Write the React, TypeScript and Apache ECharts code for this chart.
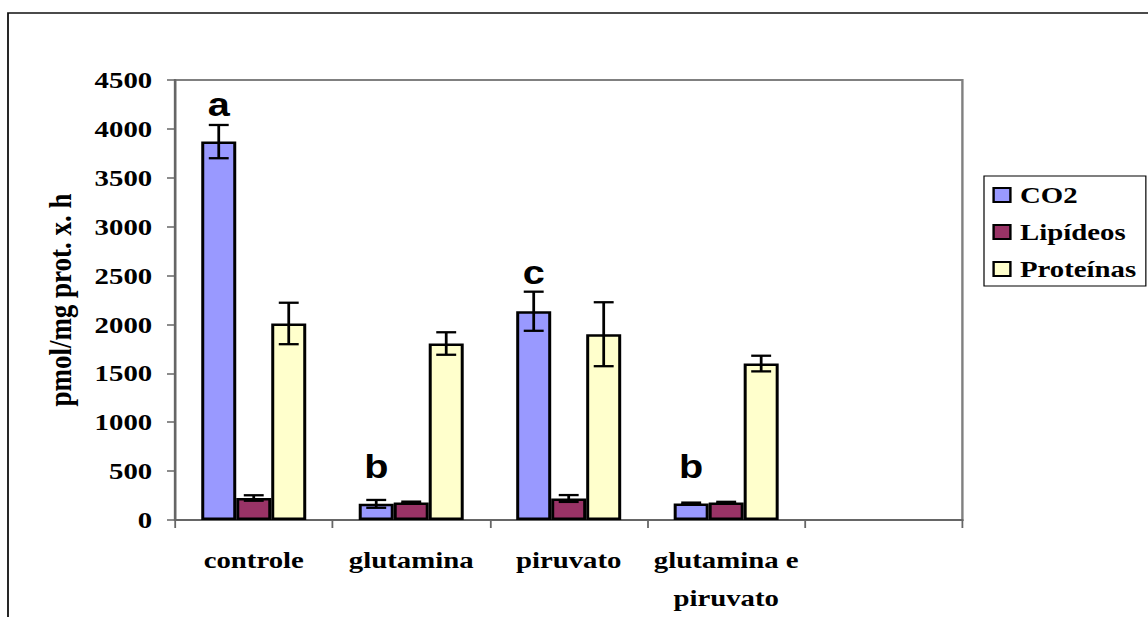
import React, { useEffect, useRef } from "react";
import * as echarts from "echarts";

const categories = ["controle", "glutamina", "piruvato", "glutamina e\npiruvato", ""];
const seriesNames = ["CO2", "Lipídeos", "Proteínas"];
const co2 = [3870, 165, 2135, 170];
const co2Err = [170, 40, 200, 8];
const lipideos = [225, 180, 220, 178];
const lipideosErr = [28, 8, 35, 8];
const proteinas = [2010, 1805, 1900, 1600];
const proteinasErr = [212, 115, 327, 80];
const letters = ["a", "b", "c", "b"];
const letterY = [4250, 547, 2530, 547];
const yTicks = { min: 0, max: 4500, interval: 500 };

const colors = ["#9999FF", "#993366", "#FFFFCC"];
const SERIF = "Liberation Serif";
const CAT_GAP = 1 / 3;
// the original picture is stretched horizontally
const STRETCH = 1.2;
const W = 1148 / STRETCH;
const H = 617;

export default function App() {
  const ref = useRef<HTMLDivElement>(null);

  useEffect(() => {
    if (!ref.current) return;
    const chart = echarts.init(ref.current, undefined, { renderer: "svg" });

    const values = [co2, lipideos, proteinas];
    const errs = [co2Err, lipideosErr, proteinasErr];

    const barSeries = seriesNames.map((name, i) => ({
      name,
      type: "bar",
      data: values[i],
      barGap: "0%",
      barCategoryGap: "33.33%",
      itemStyle: { color: colors[i], borderColor: "#000", borderWidth: 2.5 },
      z: 2,
    }));

    const errSeries = seriesNames.map((name, i) => ({
      type: "custom",
      name: name + "_err",
      z: 5,
      silent: true,
      data: values[i].map((v, k) => [k, v, errs[i][k]]),
      renderItem: (params: any, api: any) => {
        const idx = api.value(0);
        const v = api.value(1);
        const e = api.value(2);
        const catW = api.size([1, 0])[0];
        const bw = (catW * (1 - CAT_GAP)) / 3;
        const c = api.coord([idx, v]);
        const x = c[0] + (i - 1) * bw;
        const top = api.coord([idx, v + e])[1];
        const bot = api.coord([idx, v - e])[1];
        const cap = 8.3;
        const st = { stroke: "#000", lineWidth: 2.3 };
        return {
          type: "group",
          children: [
            { type: "line", shape: { x1: x, y1: top, x2: x, y2: bot }, style: st },
            { type: "line", shape: { x1: x - cap, y1: top, x2: x + cap, y2: top }, style: st },
            { type: "line", shape: { x1: x - cap, y1: bot, x2: x + cap, y2: bot }, style: st },
          ],
        };
      },
    }));

    const letterSeries = {
      type: "custom",
      name: "letters",
      z: 6,
      silent: true,
      data: letters.map((l, k) => [k, letterY[k], l]),
      renderItem: (params: any, api: any) => {
        const idx = api.value(0);
        const y = api.value(1);
        const catW = api.size([1, 0])[0];
        const bw = (catW * (1 - CAT_GAP)) / 3;
        const c = api.coord([idx, y]);
        return {
          type: "text",
          x: c[0] - bw,
          y: c[1],
          style: {
            text: letters[params.dataIndex],
            fontFamily: "Liberation Sans",
            fontWeight: "bold",
            fontSize: 33,
            fill: "#000",
            align: "center",
            verticalAlign: "middle",
          },
        };
      },
    };

    chart.setOption({
      animation: false,
      backgroundColor: "#fff",
      grid: {
        left: 175 / STRETCH,
        right: W - 962 / STRETCH,
        top: 80,
        bottom: 97,
        show: true,
        borderColor: "#808080",
        borderWidth: 2,
        backgroundColor: "transparent",
      },
      graphic: [
        {
          type: "rect",
          shape: { x: 8 / STRETCH, y: 13, width: 1300, height: 800 },
          style: { fill: "none", stroke: "#111", lineWidth: 1.5 },
          silent: true,
          z: 0,
        },
      ],
      legend: {
        data: seriesNames.map((n) => ({ name: n, icon: "rect" })),
        orient: "vertical",
        left: 984 / STRETCH,
        top: 176,
        itemWidth: 14,
        itemHeight: 14,
        itemGap: 13,
        padding: [7, 8, 5, 7],
        borderColor: "#000",
        borderWidth: 1,
        textStyle: {
          fontFamily: SERIF,
          fontWeight: "bold",
          fontSize: 24,
          lineHeight: 24,
          color: "#000",
          padding: [0, 0, 0, 3],
        },
      },
      xAxis: {
        type: "category",
        data: categories,
        axisLine: { lineStyle: { color: "#666", width: 2 } },
        axisTick: { show: true, length: 8, lineStyle: { color: "#666", width: 1.5 } },
        axisLabel: {
          interval: 0,
          margin: 21,
          fontFamily: SERIF,
          fontWeight: "bold",
          fontSize: 24,
          lineHeight: 38,
          color: "#000",
        },
      },
      yAxis: {
        type: "value",
        min: yTicks.min,
        max: yTicks.max,
        interval: yTicks.interval,
        name: "pmol/mg prot. x. h",
        nameLocation: "middle",
        nameRotate: 90,
        nameGap: 83,
        nameTextStyle: {
          fontFamily: SERIF,
          fontWeight: "bold",
          fontSize: 27,
          color: "#000",
        },
        axisLine: { show: true, lineStyle: { color: "#666", width: 2 } },
        axisTick: { show: true, length: 6.7, lineStyle: { color: "#666", width: 1.5 } },
        splitLine: { show: false },
        axisLabel: {
          margin: 19,
          fontFamily: SERIF,
          fontWeight: "bold",
          fontSize: 24,
          color: "#000",
          formatter: (v: number) => String(v),
        },
      },
      series: [...barSeries, ...errSeries, letterSeries],
    });

    return () => chart.dispose();
  }, []);

  return (
    <div style={{ position: "fixed", left: 0, top: 0, width: 1148, height: H, overflow: "hidden" }}>
      <div
        ref={ref}
        style={{
          width: W,
          height: H,
          transform: `scaleX(${STRETCH})`,
          transformOrigin: "0 0",
        }}
      />
    </div>
  );
}
